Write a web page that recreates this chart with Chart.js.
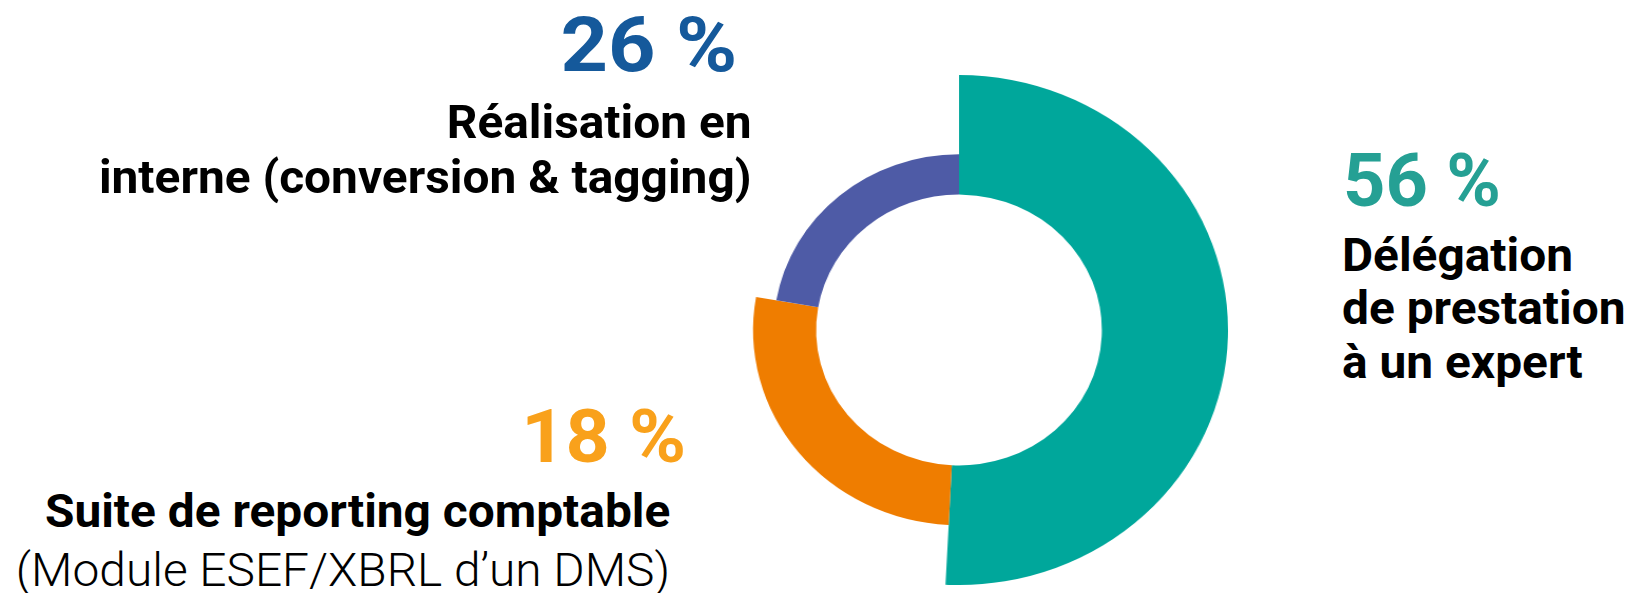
<!DOCTYPE html>
<html lang="fr">
<head>
<meta charset="utf-8">
<script src="https://cdn.jsdelivr.net/npm/chart.js@4.4.1/dist/chart.umd.min.js"></script>
<style>
  body { margin: 0; width: 1634px; height: 593px; background: #fff; overflow: hidden; position: relative; font-family: Roboto, sans-serif; }
  #donut { position: absolute; left: 703.5px; top: 75px; width: 510px; height: 510px; transform: scaleX(1.055); }
  .txt { position: absolute; white-space: nowrap; color: #000; font-weight: 700; }
  .ar { transform-origin: right top; text-align: right; }
  .al { transform-origin: left top; }
  .lbl { font-size: 46px; line-height: 55px; transform: scaleX(1.04); }
  .light { font-weight: 300; }
</style>
</head>
<body>
<div id="donut"><canvas id="chart"></canvas></div>

<div class="txt ar" id="pct2" style="right:897px; top:6.6px; font-size:76px; line-height:76px; transform:scaleX(1.09);"></div>
<div class="txt ar lbl" style="right:882px; top:95px;">Réalisation en<br>interne (conversion &amp; tagging)</div>

<div class="txt al" id="pct0" style="left:1343px; top:144.3px; font-size:74px; line-height:74px; transform:scaleX(1.0);"></div>
<div class="txt al lbl" style="left:1342px; top:228.5px; line-height:53.5px;">Délégation<br>de prestation<br>à un expert</div>

<div class="txt ar" id="pct1" style="right:948px; top:398.5px; font-size:75px; line-height:75px; transform:scaleX(1.03);"></div>
<div class="txt ar lbl" style="right:964px; top:484.3px;">Suite de reporting comptable</div>
<div class="txt ar lbl light" style="right:964px; top:542.8px;">(Module ESEF/XBRL d’un DMS)</div>

<script>
// parts, clockwise from 12 o'clock
const labels = ['Délégation de prestation à un expert', 'Suite de reporting comptable', 'Réalisation en interne']
// arc sizes as drawn in the picture
const shares = [50.8, 26.9, 22.3]
// printed percentages
const percentTexts = ['56 %', '18 %', '26 %']
const sliceColors = ['#00a79b', '#ef7d00', '#4e5ba6']
const textColors = ['#25a094', '#f9a11b', '#15599b']

// how far each slice reaches out (1 = full ring)
const ringDepth = [1, 0.5, 0.337]

percentTexts.forEach((t, i) => {
    const el = document.querySelector('#pct' + i)
    el.textContent = t
    el.style.color = textColors[i]
})

//Plugin: each arc gets its own outer radius
const varyRadius = {
    id: 'varyRadius',
    beforeDatasetDraw(chart, args) {
        const ctrl = args.meta.controller
        args.meta.data.forEach((arc, i) => {
            arc.outerRadius = ctrl.innerRadius + (ctrl.outerRadius - ctrl.innerRadius) * ringDepth[i]
        })
    }
}

new Chart(document.querySelector('#chart'), {
    type: 'doughnut',
    data: {
        labels: labels,
        datasets: [{
            data: shares,
            backgroundColor: sliceColors,
            borderWidth: 0,
            hoverOffset: 0
        }]
    },
    options: {
        responsive: true,
        maintainAspectRatio: false,
        animation: false,
        cutout: '53.1%',
        events: [],
        layout: { padding: 0 },
        plugins: {
            legend: { display: false },
            tooltip: { enabled: false }
        }
    },
    plugins: [varyRadius]
})
</script>
</body>
</html>
